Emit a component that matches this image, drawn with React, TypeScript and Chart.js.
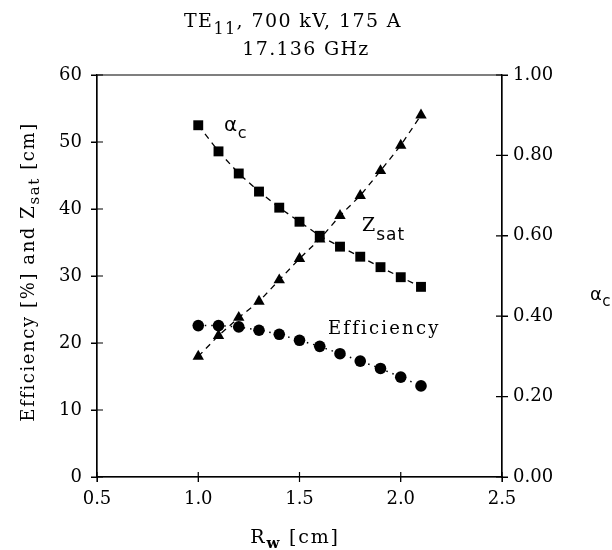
import React, { useEffect, useRef } from "react";
import { Chart, registerables } from "chart.js";

Chart.register(...registerables);

const rw = [1.0, 1.1, 1.2, 1.3, 1.4, 1.5, 1.6, 1.7, 1.8, 1.9, 2.0, 2.1];
const alphaC = [0.875, 0.81, 0.755, 0.71, 0.67, 0.635, 0.6, 0.573, 0.548, 0.522, 0.497, 0.473];
const zsat = [18.0, 21.1, 23.8, 26.2, 29.4, 32.6, 35.5, 39.0, 42.0, 45.7, 49.5, 54.0];
const efficiency = [22.6, 22.6, 22.4, 21.9, 21.3, 20.4, 19.5, 18.4, 17.3, 16.2, 14.9, 13.6];

const xTicks = [0.5, 1.0, 1.5, 2.0, 2.5];
const leftTicks = [0, 10, 20, 30, 40, 50, 60];
const rightTicks = [0, 0.2, 0.4, 0.6, 0.8, 1.0];

const FONT = "'DejaVu Serif', serif";

type Seg = { t: string; size: number; dy?: number; bold?: boolean; family?: string };

function segFont(s: Seg) {
  return `${s.bold ? "bold " : ""}${s.size}px ${s.family || FONT}`;
}

function drawRich(ctx: any, segs: Seg[], x: number, y: number, align: "left" | "center", ls: number) {
  ctx.save();
  ctx.letterSpacing = `${ls}px`;
  ctx.textBaseline = "alphabetic";
  ctx.textAlign = "left";
  let total = 0;
  const widths = segs.map((s) => {
    ctx.font = segFont(s);
    const w = ctx.measureText(s.t).width;
    total += w;
    return w;
  });
  let cx = align === "center" ? x - total / 2 : x;
  segs.forEach((s, i) => {
    ctx.font = segFont(s);
    ctx.fillStyle = "#000";
    ctx.fillText(s.t, cx, y + (s.dy || 0));
    cx += widths[i];
  });
  ctx.restore();
}

const decorPlugin = {
  id: "decor",
  afterDraw(chart: any) {
    const ctx = chart.ctx;
    const a = chart.chartArea;
    const xs = chart.scales.x;
    const yl = chart.scales.y;
    const yr = chart.scales.y2;
    ctx.save();
    ctx.strokeStyle = "#000";
    ctx.lineWidth = 1.2;
    ctx.beginPath();
    ctx.rect(a.left, a.top, a.right - a.left, a.bottom - a.top);
    ctx.stroke();
    ctx.beginPath();
    xTicks.forEach((v) => {
      const px = xs.getPixelForValue(v);
      ctx.moveTo(px, a.bottom - 5);
      ctx.lineTo(px, a.bottom + 5);
    });
    leftTicks.forEach((v) => {
      const py = yl.getPixelForValue(v);
      ctx.moveTo(a.left - 6, py);
      ctx.lineTo(a.left + 6, py);
    });
    rightTicks.forEach((v) => {
      const py = yr.getPixelForValue(v);
      ctx.moveTo(a.right - 6, py);
      ctx.lineTo(a.right + 6, py);
    });
    ctx.stroke();
    ctx.restore();

    // Title
    drawRich(ctx, [
      { t: "TE", size: 19 },
      { t: "11", size: 16, dy: 7 },
      { t: ", 700 kV, 175 A", size: 19 },
    ], 293, 27, "center", 1.4);
    drawRich(ctx, [{ t: "17.136 GHz", size: 19 }], 306, 55, "center", 1.3);

    // X axis title
    drawRich(ctx, [
      { t: "R", size: 19 },
      { t: "w", size: 15, dy: 5, bold: true },
      { t: " [cm]", size: 19 },
    ], 295, 543, "center", 1.8);

    // Y axis title (rotated)
    ctx.save();
    ctx.translate(34, 272);
    ctx.rotate(-Math.PI / 2);
    drawRich(ctx, [
      { t: "Efficiency [%] and Z", size: 18 },
      { t: "sat", size: 15, dy: 5 },
      { t: " [cm]", size: 18 },
    ], 0, 0, "center", 1.6);
    ctx.restore();

    // Right axis title
    drawRich(ctx, [
      { t: "α", size: 18, family: "'DejaVu Sans', sans-serif" },
      { t: "c", size: 15, dy: 6, family: "'DejaVu Sans', sans-serif" },
    ], 590, 300, "left", 0.5);

    // Annotations
    drawRich(ctx, [
      { t: "α", size: 20, family: "'DejaVu Sans', sans-serif" },
      { t: "c", size: 16, dy: 7, family: "'DejaVu Sans', sans-serif" },
    ], 224, 131, "left", 0.5);
    drawRich(ctx, [
      { t: "Z", size: 19 },
      { t: "sat", size: 17, dy: 9, family: "'DejaVu Sans', sans-serif" },
    ], 362, 231, "left", 1);
    drawRich(ctx, [{ t: "Efficiency", size: 18 }], 328, 334, "left", 2.2);
  },
};

export default function App() {
  const ref = useRef<HTMLCanvasElement | null>(null);
  useEffect(() => {
    if (!ref.current) return;
    const pts = (ys: number[]) => rw.map((x, i) => ({ x, y: ys[i] }));
    const chart = new Chart(ref.current, {
      type: "line",
      data: {
        datasets: [
          {
            label: "Efficiency",
            data: pts(efficiency),
            yAxisID: "y",
            borderColor: "#000",
            backgroundColor: "#000",
            borderWidth: 1.5,
            borderDash: [1.5, 5],
            pointStyle: "circle",
            pointRadius: 5.8,
            pointBorderWidth: 0,
            tension: 0,
          },
          {
            label: "Zsat",
            data: pts(zsat),
            yAxisID: "y",
            borderColor: "#000",
            backgroundColor: "#000",
            borderWidth: 1.3,
            borderDash: [6, 5],
            pointStyle: "triangle",
            pointRadius: 6.6,
            pointBorderWidth: 0,
            tension: 0,
          },
          {
            label: "alpha_c",
            data: pts(alphaC),
            yAxisID: "y2",
            borderColor: "#000",
            backgroundColor: "#000",
            borderWidth: 1.3,
            borderDash: [6, 5],
            pointStyle: "rect",
            pointRadius: 7,
            pointBorderWidth: 0,
            tension: 0,
          },
        ],
      },
      options: {
        responsive: false,
        animation: false,
        layout: { padding: { top: 75, left: 0, right: 0, bottom: 0 } },
        plugins: { legend: { display: false }, tooltip: { enabled: false }, title: { display: false } },
        scales: {
          x: {
            type: "linear",
            min: 0.5,
            max: 2.5,
            afterFit: (s: any) => { s.height = 73; },
            afterBuildTicks: (s: any) => { s.ticks = xTicks.map((v) => ({ value: v })); },
            grid: { display: true, drawOnChartArea: false, drawTicks: true, tickLength: 5, color: "#000" },
            border: { display: true, color: "#000", width: 1.2 },
            ticks: {
              color: "#000",
              padding: 7,
              maxRotation: 0,
              font: { family: FONT, size: 18 },
              callback: (v: any) => Number(v).toFixed(1),
            },
          },
          y: {
            type: "linear",
            position: "left",
            min: 0,
            max: 60,
            afterFit: (s: any) => { s.width = 97; },
            afterBuildTicks: (s: any) => { s.ticks = leftTicks.map((v) => ({ value: v })); },
            grid: { display: true, drawOnChartArea: false, drawTicks: true, tickLength: 6, color: "#000" },
            border: { display: true, color: "#000", width: 1.2 },
            ticks: {
              color: "#000",
              padding: 9,
              font: { family: FONT, size: 18 },
              callback: (v: any) => String(v),
            },
          },
          y2: {
            type: "linear",
            position: "right",
            min: 0,
            max: 1,
            afterFit: (s: any) => { s.width = 110; },
            afterBuildTicks: (s: any) => { s.ticks = rightTicks.map((v) => ({ value: v })); },
            grid: { display: true, drawOnChartArea: false, drawTicks: true, tickLength: 6, color: "#000" },
            border: { display: true, color: "#000", width: 1.2 },
            ticks: {
              color: "#000",
              padding: 5,
              font: { family: FONT, size: 18 },
              callback: (v: any) => Number(v).toFixed(2),
            },
          },
        },
      },
      plugins: [decorPlugin],
    } as any);
    return () => chart.destroy();
  }, []);
  return (
    <div style={{ position: "absolute", left: 0, top: 0, width: 612, height: 550, background: "#fff" }}>
      <canvas ref={ref} width={612} height={550} />
    </div>
  );
}
